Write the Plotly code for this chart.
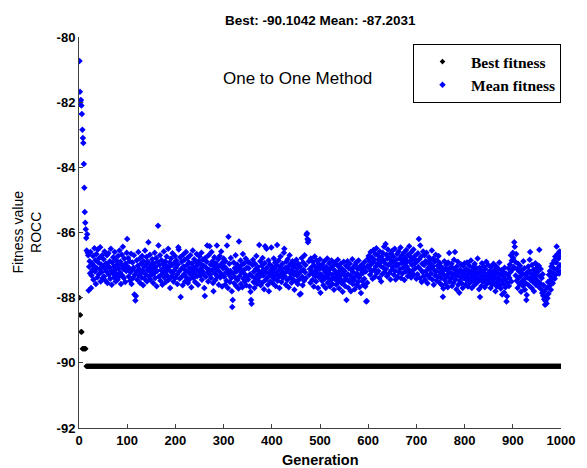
import plotly.graph_objects as go

# ---------------- data ----------------
best_fitness = ([-88.00, -88.53, -88.53, -89.05, -89.05, -89.05,
                 -89.57, -89.57, -89.57, -89.57, -89.57, -89.57, -89.57, -89.57]
                + [-90.1042] * 986)

mean_fitness = [
    # 1-50
    -80.74, -81.68, -82.00, -81.93, -82.10, -82.36, -82.85, -83.10, -83.25, -83.90,
    -84.63, -85.37, -85.70, -85.90, -86.17,
    -86.55, -86.05, -86.62, -86.70, -87.78, -87.05, -86.88, -87.25, -86.60, -87.70,
    -87.32, -86.95, -87.15, -86.72, -87.45, -87.02, -86.48, -87.20, -86.85, -87.58,
    -86.66, -87.10, -87.38, -86.52, -86.92, -87.28, -86.78, -87.12, -86.45, -87.50,
    -86.98, -87.22, -86.70, -87.40, -87.05,
    # 51-100
    -86.82, -87.35, -86.58, -87.12, -87.48, -86.95, -87.20, -86.70, -87.55, -87.02,
    -86.64, -87.30, -87.08, -86.88, -87.42, -86.50, -87.18, -87.60, -86.92, -87.25,
    -86.76, -87.05, -87.38, -86.60, -87.15, -87.50, -86.85, -87.28, -86.98, -87.45,
    -86.72, -87.10, -87.35, -86.55, -87.22, -86.90, -87.58, -87.00, -86.68, -87.32,
    -86.44, -87.12, -87.40, -86.80, -87.05, -87.52, -86.95, -87.18, -86.62, -86.20,
    # 101-150
    -87.05, -86.78, -87.35, -87.10, -86.88, -87.48, -87.22, -86.65, -87.58, -87.15,
    -86.92, -87.40, -87.08, -86.70, -87.90, -87.30, -88.09, -87.95, -87.20, -86.85,
    -87.45, -87.02, -86.60, -87.32, -87.12, -86.80, -87.55, -87.25, -86.95, -87.38,
    -86.72, -87.18, -87.62, -86.88, -87.05, -87.42, -86.55, -87.28, -87.00, -86.75,
    -87.50, -87.15, -86.90, -86.30, -87.35, -87.08, -86.68, -87.45, -87.22, -86.98,
    # 151-200
    -87.30, -86.82, -87.12, -87.55, -86.95, -87.25, -86.62, -87.40, -87.05, -86.78,
    -87.65, -87.18, -86.90, -85.79, -86.40, -87.35, -87.00, -86.70, -87.48, -87.15,
    -86.85, -87.28, -87.60, -86.96, -87.10, -86.58, -87.38, -87.22, -86.88, -87.52,
    -87.02, -86.74, -87.32, -87.14, -86.50, -87.45, -87.06, -86.92, -87.70, -87.20,
    -86.80, -87.36, -87.00, -86.64, -87.26, -87.50, -86.94, -87.16, -86.72, -87.40,
    # 201-250
    -87.08, -86.86, -87.30, -87.58, -86.98, -86.45, -86.52, -87.20, -87.42, -86.76,
    -87.98, -87.12, -86.90, -87.35, -87.62, -86.68, -87.04, -87.28, -86.84, -87.50,
    -87.16, -86.60, -87.38, -87.00, -86.78, -87.55, -87.22, -86.92, -87.44, -87.10,
    -86.70, -87.30, -87.68, -86.95, -87.18, -86.55, -87.40, -87.06, -86.82, -87.25,
    -87.52, -86.90, -87.14, -86.66, -87.34, -87.00, -87.60, -86.88, -87.20, -86.74,
    # 251-300
    -87.32, -86.96, -87.10, -86.62, -87.45, -87.18, -86.84, -87.28, -87.02, -87.70,
    -87.95, -86.78, -87.36, -87.08, -86.90, -86.40, -87.22, -87.50, -86.70, -87.14,
    -86.42, -87.30, -86.98, -87.40, -86.60, -87.16, -86.88, -87.55, -87.80, -87.04,
    -86.76, -87.26, -87.46, -86.94, -87.12, -86.40, -87.34, -87.06, -86.82, -87.60,
    -87.20, -86.72, -87.38, -87.00, -86.58, -87.28, -87.66, -86.92, -87.10, -86.80,
    # 301-350
    -87.36, -87.05, -87.60, -86.88, -87.22, -87.48, -86.40, -87.14, -87.70, -86.13,
    -87.30, -86.96, -87.52, -87.18, -86.78, -87.40, -87.80, -88.29, -88.07, -87.26,
    -86.92, -87.56, -87.10, -87.38, -86.70, -87.64, -87.20, -86.98, -87.46, -87.04,
    -87.72, -86.28, -87.34, -87.12, -86.86, -87.58, -87.24, -87.00, -87.68, -86.66,
    -87.42, -87.16, -86.94, -87.50, -87.30, -86.80, -87.62, -87.08, -87.36, -86.90,
    # 351-400
    -87.44, -87.10, -86.92, -87.66, -87.28, -87.82, -88.07, -88.19, -87.34, -87.00,
    -86.84, -87.52, -87.20, -87.70, -86.96, -87.40, -87.12, -86.72, -87.58, -87.30,
    -87.06, -87.48, -87.18, -86.38, -87.36, -86.88, -87.62, -87.24, -87.02, -87.54,
    -86.78, -87.32, -87.14, -87.74, -86.94, -86.42, -87.46, -87.22, -86.50, -87.08,
    -87.38, -87.60, -86.86, -87.80, -87.26, -86.98, -87.50, -87.16, -86.46, -87.34,
    # 401-450
    -87.04, -87.56, -87.22, -86.80, -87.42, -87.10, -86.92, -87.64, -87.30, -87.00,
    -86.38, -87.48, -87.18, -86.86, -87.36, -87.70, -87.06, -86.74, -87.28, -87.52,
    -87.14, -86.96, -87.40, -87.24, -86.62, -86.50, -87.34, -87.08, -87.60, -86.90,
    -87.20, -87.46, -86.82, -87.12, -87.68, -87.02, -86.70, -87.38, -87.26, -86.94,
    -87.54, -87.16, -86.88, -87.44, -87.06, -87.30, -87.76, -86.98, -87.22, -87.50,
    # 451-500
    -86.84, -87.32, -87.10, -87.58, -86.96, -87.26, -87.44, -87.90, -87.04, -87.88,
    -87.18, -86.78, -87.36, -87.62, -86.92, -87.14, -87.48, -86.70, -87.22, -87.00,
    -87.40, -86.07, -86.02, -86.20, -86.30, -86.24, -86.88, -87.30, -87.12, -87.54,
    -86.80, -87.20, -87.06, -87.46, -86.90, -87.28, -87.66, -87.02, -86.74, -87.34,
    -87.16, -87.50, -86.86, -87.24, -87.08, -87.70, -86.96, -87.38, -87.12, -86.82,
    # 501-550
    -87.85, -87.28, -87.04, -87.48, -86.98, -87.36, -87.62, -87.14, -86.88, -87.42,
    -87.22, -87.70, -87.06, -87.32, -86.80, -87.54, -87.18, -87.40, -86.94, -87.26,
    -87.66, -87.10, -87.46, -86.86, -87.30, -87.58, -87.02, -87.38, -87.76, -87.16,
    -86.92, -87.44, -87.24, -87.60, -87.00, -87.34, -86.84, -87.50, -87.20, -87.72,
    -87.08, -87.42, -86.96, -87.30, -87.56, -87.12, -87.82, -87.26, -86.90, -87.48,
    # 551-600
    -87.18, -87.64, -87.36, -87.02, -88.07, -87.44, -86.88, -87.28, -87.70, -87.10,
    -87.50, -86.96, -87.32, -87.80, -87.14, -87.40, -86.82, -87.58, -87.22, -87.06,
    -87.46, -87.74, -87.00, -87.34, -86.92, -87.62, -87.26, -87.12, -87.52, -86.86,
    -87.38, -87.68, -87.04, -87.30, -87.86, -87.16, -86.98, -87.48, -87.24, -87.60,
    -87.08, -87.42, -86.90, -87.66, -87.20, -88.12, -88.10, -87.54, -87.02, -86.80,
    # 601-650
    -86.72, -87.10, -86.88, -87.30, -86.60, -86.98, -87.20, -86.76, -87.42, -86.92,
    -86.54, -87.14, -86.84, -87.36, -86.66, -87.04, -86.48, -87.24, -86.96, -86.70,
    -87.18, -86.82, -87.40, -86.58, -87.02, -86.90, -87.50, -86.74, -87.28, -86.62,
    -87.08, -86.86, -86.44, -87.22, -86.94, -86.35, -87.12, -86.68, -87.34, -86.80,
    -86.52, -87.00, -87.26, -86.78, -86.96, -87.44, -86.64, -87.16, -86.88, -86.56,
    # 651-700
    -87.06, -86.74, -87.30, -86.92, -86.50, -87.18, -87.44, -86.84, -87.02, -86.66,
    -87.36, -86.98, -86.58, -87.22, -86.80, -87.12, -86.46, -87.40, -86.94, -86.70,
    -87.26, -86.86, -87.08, -86.62, -87.46, -86.96, -86.78, -87.20, -86.54, -87.04,
    -86.88, -87.34, -86.68, -87.14, -86.42, -86.90, -87.24, -86.76, -87.38, -86.60,
    -87.00, -86.82, -87.16, -86.52, -87.30, -86.96, -86.72, -87.10, -86.86, -87.42,
    # 701-750
    -86.90, -87.28, -86.64, -87.06, -86.20, -86.82, -87.40, -86.40, -87.14, -86.74,
    -87.52, -86.96, -87.22, -86.58, -87.34, -87.00, -86.70, -87.46, -86.88, -87.18,
    -86.62, -87.30, -87.56, -86.92, -87.08, -86.76, -87.38, -87.12, -86.84, -87.26,
    -86.98, -86.55, -87.44, -87.04, -86.80, -87.60, -87.16, -86.90, -87.32, -86.68,
    -87.20, -87.48, -86.86, -87.02, -87.36, -86.72, -87.10, -87.54, -86.94, -87.24,
    # 751-800
    -87.40, -87.06, -87.62, -87.20, -87.97, -87.72, -87.30, -86.88, -87.46, -87.12,
    -87.58, -87.00, -87.36, -87.16, -87.68, -86.92, -87.26, -86.63, -87.50, -87.08,
    -87.42, -87.24, -86.96, -87.64, -87.34, -87.10, -87.54, -86.84, -87.28, -86.60,
    -87.44, -87.18, -87.74, -87.04, -87.32, -86.90, -87.60, -87.22, -87.85, -87.48,
    -87.14, -87.38, -86.98, -87.56, -87.26, -87.70, -87.02, -87.40, -87.20, -86.94,
    # 801-850
    -87.34, -87.60, -87.12, -87.46, -86.92, -87.28, -87.66, -87.18, -87.40, -87.02,
    -87.54, -87.24, -86.86, -87.38, -87.70, -87.14, -87.48, -87.06, -87.30, -87.62,
    -86.96, -87.44, -87.20, -87.56, -87.10, -87.36, -86.80, -87.50, -87.26, -87.74,
    -87.08, -87.98, -87.42, -87.16, -87.64, -86.94, -87.32, -87.52, -87.22, -87.04,
    -87.46, -87.68, -87.12, -87.36, -86.90, -87.58, -87.28, -87.44, -87.00, -87.30,
    # 851-900
    -87.52, -87.18, -87.40, -87.70, -87.06, -87.34, -87.60, -87.22, -87.46, -86.96,
    -87.28, -87.56, -87.14, -87.80, -87.38, -87.04, -87.66, -87.24, -87.50, -87.12,
    -87.42, -86.92, -87.62, -87.30, -87.72, -87.16, -87.48, -87.90, -87.20, -87.58,
    -87.36, -87.84, -87.08, -87.44, -87.68, -87.26, -88.12, -87.96, -87.54, -87.32,
    -87.10, -87.64, -87.40, -86.98, -87.22, -86.70, -87.50, -86.86, -87.14, -86.62,
    # 901-950
    -86.78, -87.06, -86.30, -86.44, -86.90, -87.32, -86.66, -87.48, -87.12, -87.70,
    -86.96, -87.40, -87.20, -87.58, -87.02, -87.34, -87.82, -87.16, -87.50, -87.26,
    -87.64, -86.88, -87.44, -87.10, -87.76, -87.30, -87.56, -88.07, -87.92, -87.22,
    -87.38, -87.04, -87.62, -87.18, -86.84, -86.60, -87.46, -87.28, -87.70, -87.00,
    -87.36, -87.52, -87.14, -87.80, -87.24, -87.42, -86.94, -87.60, -87.32, -87.08,
    # 951-1000
    -87.48, -87.20, -87.66, -87.02, -86.53, -87.34, -87.56, -87.12, -87.74, -87.40,
    -87.86, -87.28, -87.94, -87.62, -88.05, -87.80, -88.22, -88.10, -87.96, -88.18,
    -87.70, -88.02, -87.52, -87.88, -87.30, -87.64, -87.18, -87.46, -87.76, -87.04,
    -87.38, -86.96, -87.56, -87.24, -87.10, -86.86, -87.42, -86.74, -87.30, -86.92,
    -86.43, -87.16, -86.66, -87.08, -86.80, -87.26, -86.58, -87.00, -86.70, -87.20,
]

best_gen = list(range(1, len(best_fitness) + 1))
mean_gen = list(range(1, len(mean_fitness) + 1))

x_ticks = [0, 100, 200, 300, 400, 500, 600, 700, 800, 900, 1000]
x_tick_labels = ["0", "100", "200", "300", "400", "500", "600", "700", "800", "900", "1000"]
y_ticks = [-92, -90, -88, -86, -84, -82, -80]
y_tick_labels = ["-92", "-90", "-88", "-86", "-84", "-82", "-80"]

title_text = "Best: -90.1042 Mean: -87.2031"
method_text = "One to One Method"
series_names = ["Best fitness", "Mean fitness"]

# ---------------- figure ----------------
fig = go.Figure()
fig.add_trace(go.Scatter(
    x=best_gen, y=best_fitness, mode="markers", name=series_names[0],
    marker=dict(symbol="diamond", size=4.3, color="black", line=dict(width=0)),
))
fig.add_trace(go.Scatter(
    x=mean_gen, y=mean_fitness, mode="markers", name=series_names[1],
    marker=dict(symbol="diamond", size=5, color="#0000ff", line=dict(width=0)),
))

axis_common = dict(
    showgrid=False, zeroline=False, showline=True, linecolor="#404040", linewidth=1,
    ticks="inside", ticklen=4, tickcolor="#404040", mirror=False,
    ticklabeloverflow="allow",
    tickfont=dict(family="Liberation Sans Narrow, Liberation Sans, Arial", size=13,
                  color="black", weight="bold"),
)

fig.update_layout(
    width=579, height=460,
    margin=dict(l=71, r=15, t=29, b=40),
    paper_bgcolor="white", plot_bgcolor="white",
    showlegend=True,
    legend=dict(
        x=1.0, xanchor="right", y=0.982, yanchor="top",
        bordercolor="black", borderwidth=1, bgcolor="white",
        font=dict(family="Liberation Serif, Times New Roman", size=15.5, color="black", weight="bold"),
        itemwidth=47, tracegroupgap=0,
    ),
    xaxis=dict(range=[0, 1000], tickvals=x_ticks, ticktext=x_tick_labels, **axis_common),
    yaxis=dict(range=[-92, -80], tickvals=y_ticks, ticktext=y_tick_labels, **axis_common),
    annotations=[
        dict(text=title_text, xref="paper", yref="paper", x=0.5, y=1.0, yshift=17,
             xanchor="center", yanchor="middle", showarrow=False,
             font=dict(family="Liberation Sans, Arial", size=13.5, color="black", weight="bold")),
        dict(text=method_text, xref="paper", yref="paper", x=0.295, y=0.895,
             xanchor="left", yanchor="middle", showarrow=False,
             font=dict(family="Liberation Sans, Arial", size=17, color="black")),
        dict(text="Generation", xref="paper", yref="paper", x=0.5, y=0, yshift=-32,
             xanchor="center", yanchor="middle", showarrow=False,
             font=dict(family="Liberation Sans, Arial", size=14.5, color="black", weight="bold")),
        dict(text="Fitness value<br>ROCC", xref="paper", yref="paper", x=0, xshift=-53, y=0.5,
             xanchor="center", yanchor="middle", showarrow=False, textangle=-90,
             font=dict(family="Liberation Sans, Arial", size=14, color="black")),
    ],
)

fig.write_html("out.html")
